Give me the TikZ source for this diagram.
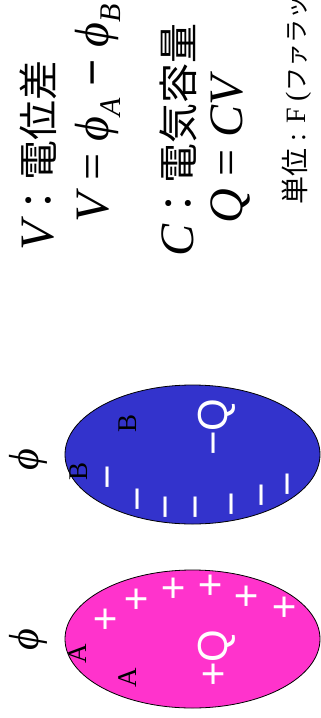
\documentclass[tikz,border=0pt]{standalone}
\usepackage{fontspec}
\setmainfont{Liberation Serif}
\newfontfamily\cjk{Noto Sans CJK JP}
\newfontfamily\arial{Liberation Sans}
\definecolor{pinkfill}{RGB}{255,51,204}
\definecolor{bluefill}{RGB}{51,51,204}
\newcommand\subtx[1]{{\fontsize{30}{30}\selectfont\raisebox{-0.4em}{#1}}}
\begin{document}
\begin{tikzpicture}[x=1pt,y=-1pt,
  rot/.style={rotate=90,inner sep=0pt,outer sep=0pt},
  sign/.style={rot,text=white,font=\arial\fontsize{42}{42}\selectfont},
  lbl/.style={rot,font=\fontsize{27}{27}\selectfont},
  phil/.style={rot,font=\itshape\fontsize{42}{42}\selectfont},
  big/.style={rot,anchor=base west,font=\itshape\fontsize{48}{48}\selectfont},
  plate/.style={draw=black,line width=0.8pt}]
\useasboundingbox (0,0) rectangle (321,718);
% plates
\fill[pinkfill] (192.5,639) ellipse [x radius=127.5, y radius=69];
\draw[plate] (192.5,639) ellipse [x radius=127.5, y radius=69];
\fill[bluefill] (192.5,454.5) ellipse [x radius=127.5, y radius=69.5];
\draw[plate] (192.5,454.5) ellipse [x radius=127.5, y radius=69.5];
% potentials
\node[phil] (phiA) at (28,640) {ϕ};
\node[phil] (phiB) at (28,460) {ϕ};
\node[lbl] (A1) at (78,654) {A};
\node[lbl] (A2) at (128,678) {A};
\node[lbl] (B1) at (79,471) {B};
\node[lbl] (B2) at (128,423) {B};
% charges
\node[sign] (pQ) at (217,658) {+Q};
\node[sign] (mQ) at (217,427) {−Q};
\foreach \x/\y [count=\i] in {107/619,138/599,175/588,212/585,248/596,286/607}
  \node[sign] (p\i) at (\x,\y) {+};
\foreach \x/\y [count=\i] in {114/477,144/499,172/507,202/507,238/504,268/495,294/484}
  \node[sign] (m\i) at (\x,\y) {−};
% text
\node[big] (l1) at (53,250) {V\cjk\upshape\fontsize{40}{40}\selectfont ：電位差};
\node[big] (l2) at (108,222) {V {\upshape =} ϕ\subtx{A} {\upshape\bfseries −} ϕ\subtx{B}};
\node[big] (l3) at (193,256) {C\cjk\upshape\fontsize{40}{40}\selectfont ：電気容量};
\node[big] (l4) at (242,223) {Q {\upshape =} CV};
\node[rot,anchor=base west,font=\fontsize{28}{28}\selectfont] (l5) at (305,204) {{\cjk 単位} : F ({\cjk\fontsize{24}{24}\selectfont ファラッド})};
\end{tikzpicture}
\end{document}
